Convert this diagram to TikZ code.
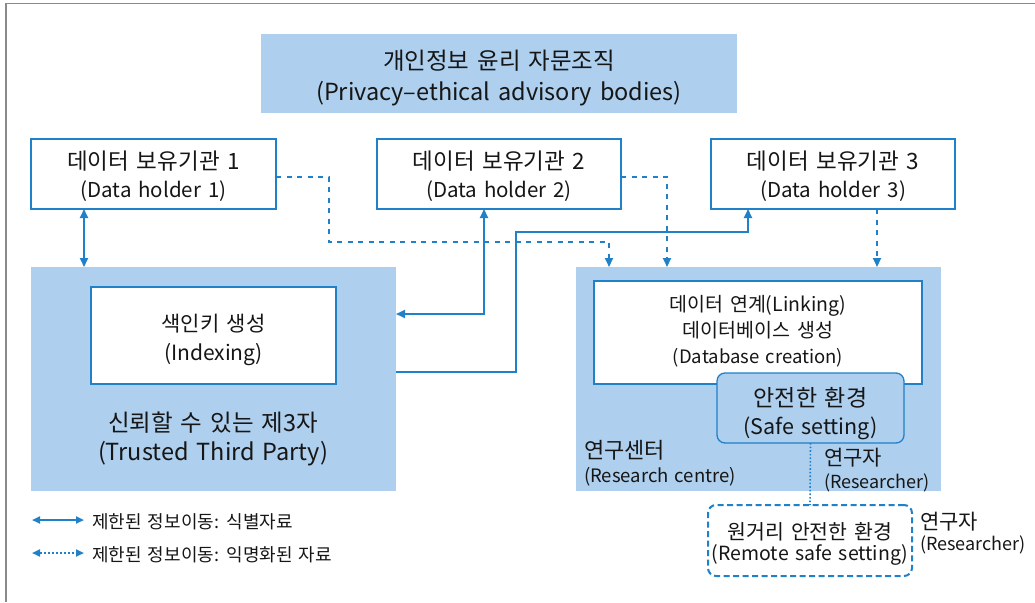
\documentclass[tikz,border=0pt]{standalone}
\usepackage{fontspec}
\setmainfont[WordSpace=1.5]{Noto Sans CJK KR}
\usetikzlibrary{arrows.meta,calc}
\definecolor{lineblue}{HTML}{2080C8}
\definecolor{fillblue}{HTML}{AECFEE}
\definecolor{txt}{HTML}{161616}
\definecolor{framegray}{HTML}{8A8A8A}
\newcommand{\fsz}[2]{\fontsize{#1}{#2}\selectfont}
\tikzset{
  base/.style={inner sep=0pt, outer sep=0pt, anchor=north west},
  bluepanel/.style={base, fill=fillblue},
  holder/.style={base, draw=lineblue, line width=1.3pt, fill=white},
  ctext/.style={inner sep=0pt, outer sep=0pt, align=center, text=txt},
  solidcon/.style={draw=lineblue, line width=2pt, -{Triangle[length=9pt,width=8pt]}},
  dashcon/.style={draw=lineblue, line width=2pt, dash pattern=on 5pt off 5.5pt, -{Triangle[length=9pt,width=8pt]}},
  lbl/.style={inner sep=0pt, outer sep=0pt, anchor=west, align=left, text=txt},
}
\begin{document}
\begin{tikzpicture}[x=1pt,y=-1pt]
\useasboundingbox (0,0) rectangle (1035,602);
\fill[white] (0,0) rectangle (1035,602);
% frame
\draw[framegray, line width=1.5pt] (6,602) -- (6,3.5) -- (1035,3.5);

% top box
\node[bluepanel, minimum width=476pt, minimum height=79pt] (top) at (261,34) {};
\node[ctext, font=\fsz{23.5}{31}] (topt) at ($(top.center)+(0,5)$)
  {개인정보 윤리 자문조직\\(Privacy–ethical advisory bodies)};

% data holders
\node[holder, minimum width=245pt, minimum height=70pt] (dh1) at (31,139) {};
\node[holder, minimum width=244pt, minimum height=70pt] (dh2) at (377,139) {};
\node[holder, minimum width=244pt, minimum height=70pt] (dh3) at (711,139) {};
\node[ctext, font=\fsz{22.5}{28}] (dh1t) at ($(dh1.center)+(0,2)$)
  {데이터 보유기관 1\\{\fsz{20.5}{28}(Data holder 1)}};
\node[ctext, font=\fsz{22.5}{28}] (dh2t) at ($(dh2.center)+(0,2)$)
  {데이터 보유기관 2\\{\fsz{20.5}{28}(Data holder 2)}};
\node[ctext, font=\fsz{22.5}{28}] (dh3t) at ($(dh3.center)+(0,2)$)
  {데이터 보유기관 3\\{\fsz{20.5}{28}(Data holder 3)}};

% trusted third party
\node[bluepanel, minimum width=365pt, minimum height=224pt] (ttp) at (31,267) {};
\node[holder, minimum width=245pt, minimum height=97pt] (idx) at (91,287) {};
\node[ctext, font=\fsz{21}{29}] (idxt) at ($(idx.center)+(0,4.5)$)
  {색인키 생성\\(Indexing)};
\node[ctext, font=\fsz{23.5}{29}] (ttptext) at (213,439)
  {신뢰할 수 있는 제3자\\(Trusted Third Party)};

% research centre
\node[bluepanel, minimum width=365pt, minimum height=224pt] (rc) at (576,267) {};
\node[holder, minimum width=328pt, minimum height=103pt] (link) at (594,281) {};
\node[ctext, font=\fsz{19.5}{26}] (linkt) at ($(link.center)+(0,-1)$)
  {데이터 연계(Linking)\\데이터베이스 생성\\{\fsz{18.5}{26}(Database creation)}};
\node[base, fill=fillblue, draw=lineblue, line width=1.3pt, rounded corners=8pt, minimum width=187pt, minimum height=70pt] (safe) at (717,373) {};
\node[ctext, font=\fsz{23}{28}] (safet) at ($(safe.center)+(0,6)$)
  {안전한 환경\\{\fsz{21.5}{28}(Safe setting)}};
\node[lbl, font=\fsz{22}{24}] (rclabel) at (584,463.5)
  {연구센터\\{\fsz{18.5}{24}(Research centre)}};
\node[lbl, font=\fsz{21}{23}] (res1) at (824,470.5)
  {연구자\\{\fsz{18}{23}(Researcher)}};

% remote safe setting
\node[base, fill=white, draw=lineblue, line width=2pt, dash pattern=on 6pt off 3.5pt, rounded corners=8pt, minimum width=204pt, minimum height=71pt] (remote) at (708,505) {};
\node[ctext, font=\fsz{20.5}{21.5}] (remotet) at ($(remote.center)+(0,3.5)$)
  {원거리 안전한 환경\\{\fsz{19.5}{21.5}(Remote safe setting)}};
\node[lbl, font=\fsz{21}{21}] (res2) at (920,533.5)
  {연구자\\{\fsz{18}{21}(Researcher)}};

% connectors
\draw[solidcon, {Triangle[length=9pt,width=8pt]}-{Triangle[length=9pt,width=8pt]}]
  ([xshift=53pt]dh1.south west) -- ([xshift=53pt]dh1.south west |- ttp.north);
\coordinate (j1) at (329,242);
\coordinate (j2) at (609,242);
\draw[dashcon] ([yshift=-3pt]dh1.east) -| (j1) -- (j2) -- (j2 |- rc.north);
\draw[dashcon] ([yshift=-3pt]dh2.east) -| ([xshift=91pt]rc.north west);
\draw[dashcon] ([xshift=166pt]dh3.south west) -- ([xshift=166pt]dh3.south west |- rc.north);
\draw[solidcon, {Triangle[length=9pt,width=8pt]}-{Triangle[length=9pt,width=8pt]}]
  ([yshift=65pt]ttp.east) -| ([xshift=107pt]dh2.south west);
\coordinate (k1) at (516,232);
\draw[solidcon] ([yshift=7pt]ttp.east) -| (k1) -| ([xshift=37pt]dh3.south west);
\draw[draw=lineblue, line width=1.6pt, dash pattern=on 1.6pt off 2pt] (safe.south) -- (remote.north);

% legend
\coordinate (l1a) at (32,520);
\coordinate (l1b) at (84,520);
\coordinate (l2a) at (32,553);
\coordinate (l2b) at (84,553);
\draw[draw=lineblue, line width=2pt, {Triangle[length=8pt,width=7pt]}-{Triangle[length=8pt,width=7pt]}] (l1a) -- (l1b);
\draw[draw=lineblue, line width=2pt, dash pattern=on 2pt off 2pt, {Triangle[length=8pt,width=7pt]}-{Triangle[length=8pt,width=7pt]}] (l2a) -- (l2b);
\node[inner sep=0pt, anchor=west, text=txt, font=\fsz{18}{20}] (leg1) at (92,522) {제한된 정보이동: 식별자료};
\node[inner sep=0pt, anchor=west, text=txt, font=\fsz{18}{20}] (leg2) at (92,555) {제한된 정보이동: 익명화된 자료};
\end{tikzpicture}
\end{document}
